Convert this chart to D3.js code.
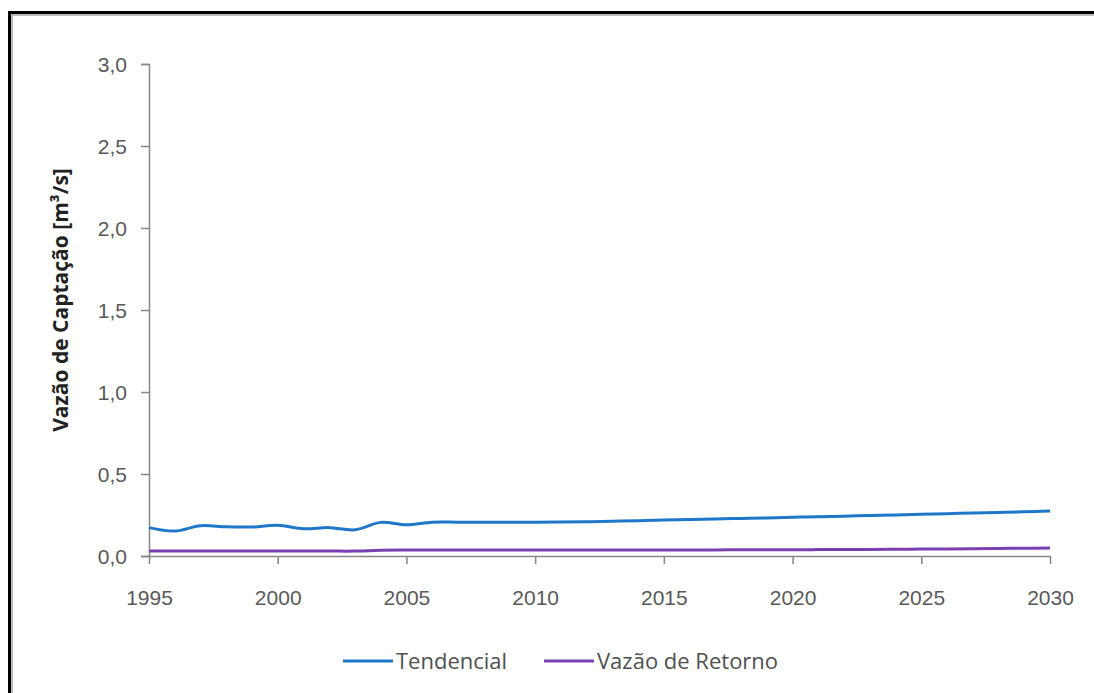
<!DOCTYPE html>
<html>
<head>
<meta charset="utf-8">
<script src="https://cdn.jsdelivr.net/npm/d3@7"></script>
<style>
    body { margin: 0; background: #fff; }
    svg { font-family: "Open Sans", sans-serif; }
    .tick text { fill: #595959; font-size: 21px; }
    .axis path, .axis line { stroke: #868686; stroke-width: 1.5px; }
    .ytitle { font-size: 21px; font-weight: bold; fill: #222; }
    .legend text { font-size: 22px; fill: #505050; }
</style>
</head>
<body>
<script>
    // values, m³/s per year
    var years = d3.range(1995, 2031);
    var tendencial = [0.173, 0.152, 0.185, 0.178, 0.177, 0.187, 0.166, 0.173, 0.160, 0.205,
        0.190, 0.206, 0.206, 0.206, 0.206, 0.206, 0.207, 0.209, 0.212, 0.215,
        0.219, 0.222, 0.226, 0.229, 0.232, 0.236, 0.240, 0.243, 0.247, 0.250,
        0.254, 0.258, 0.262, 0.266, 0.270, 0.274];
    var retorno = [0.030, 0.030, 0.030, 0.030, 0.030, 0.030, 0.030, 0.030, 0.030, 0.035,
        0.036, 0.036, 0.036, 0.036, 0.036, 0.036, 0.036, 0.036, 0.036, 0.037,
        0.037, 0.037, 0.037, 0.038, 0.038, 0.038, 0.039, 0.040, 0.040, 0.041,
        0.042, 0.043, 0.044, 0.046, 0.047, 0.049];
    var seriesNames = ["Tendencial", "Vazão de Retorno"];
    var colors = ["#1f77c9", "#7a3fb0"];
    var xTicks = [1995, 2000, 2005, 2010, 2015, 2020, 2025, 2030];
    var yTicks = [0, 0.5, 1.0, 1.5, 2.0, 2.5, 3.0];

    var W = 1094, H = 693;
    var margin = {top: 64, right: 44, bottom: 137, left: 149};

    var svg = d3.select("body").append("svg")
        .attr("width", W)
        .attr("height", H);

    // frame
    svg.append("line").attr("x1", 9).attr("x2", W).attr("y1", 12.5).attr("y2", 12.5)
        .attr("stroke", "#000").attr("stroke-width", 3);
    svg.append("line").attr("x1", 9).attr("x2", W).attr("y1", 15).attr("y2", 15)
        .attr("stroke", "#bbb").attr("stroke-width", 2);
    svg.append("line").attr("x1", 9.5).attr("x2", 9.5).attr("y1", 11).attr("y2", H)
        .attr("stroke", "#000").attr("stroke-width", 3);
    svg.append("line").attr("x1", 12).attr("x2", 12).attr("y1", 14).attr("y2", H)
        .attr("stroke", "#bbb").attr("stroke-width", 2);

    var x = d3.scaleLinear().domain([1995, 2030]).range([margin.left, W - margin.right]);
    var y = d3.scaleLinear().domain([0, 3]).range([H - margin.bottom, margin.top]);

    var fmt = function (d) { return d3.format(".1f")(d).replace(".", ","); };

    svg.append("g")
        .attr("class", "axis")
        .attr("transform", "translate(" + margin.left + ",0)")
        .call(d3.axisLeft(y).tickValues(yTicks).tickFormat(fmt).tickSize(8).tickSizeOuter(8).tickPadding(14))
        .call(function (g) { g.selectAll(".tick text").attr("dy", "0.35em"); });

    svg.append("g")
        .attr("class", "axis")
        .attr("transform", "translate(0," + (H - margin.bottom) + ")")
        .call(d3.axisBottom(x).tickValues(xTicks).tickFormat(d3.format("d")).tickSize(8).tickSizeOuter(0).tickPadding(26));

    svg.append("text")
        .attr("class", "ytitle")
        .attr("transform", "translate(68,300) rotate(-90)")
        .attr("text-anchor", "middle")
        .text("Vazão de Captação [m³/s]");

    var line = d3.line()
        .x(function (d) { return x(d[0]); })
        .y(function (d) { return y(d[1]); })
        .curve(d3.curveCatmullRom.alpha(0.5));

    [tendencial, retorno].forEach(function (vals, i) {
        svg.append("path")
            .datum(years.map(function (yr, j) { return [yr, vals[j]]; }))
            .attr("fill", "none")
            .attr("stroke", colors[i])
            .attr("stroke-width", 3)
            .attr("d", line);
    });

    var legend = svg.append("g").attr("class", "legend");
    var legX = [343, 544];
    seriesNames.forEach(function (name, i) {
        legend.append("line")
            .attr("x1", legX[i]).attr("x2", legX[i] + 50)
            .attr("y1", 661).attr("y2", 661)
            .attr("stroke", colors[i]).attr("stroke-width", 3);
        legend.append("text")
            .attr("x", legX[i] + 53).attr("y", 661)
            .attr("dy", "0.35em")
            .text(name);
    });
</script>
</body>
</html>
